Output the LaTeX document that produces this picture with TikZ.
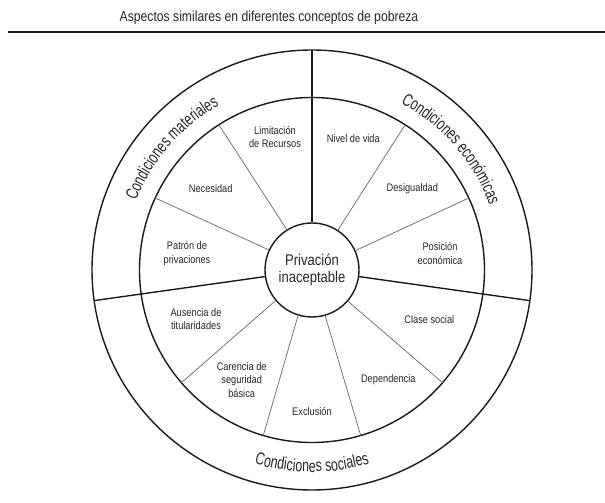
\documentclass[tikz,border=0pt]{standalone}
\usepackage{fontspec}
\setmainfont{Liberation Sans}[FakeStretch=0.84]
\newfontfamily\curvefam{Liberation Sans}[FakeStretch=0.71]
\usetikzlibrary{decorations.text,calc}
\definecolor{ink}{HTML}{1A1A1A}
\definecolor{txt}{HTML}{262626}
\definecolor{thinline}{HTML}{666666}
\newcommand\curvefont{\curvefam\fontsize{17.5}{20}\selectfont\color{txt}}
\begin{document}
\begin{tikzpicture}[x=1pt,y=1pt,
  ring/.style={draw=ink, line width=1.4pt},
  major/.style={draw=ink, line width=1.4pt},
  minor/.style={draw=thinline, line width=0.7pt},
  lab/.style={text=txt, font=\fontsize{11}{13.5}\selectfont, align=center, inner sep=0pt},
  curved/.style={decorate, decoration={text along path, text align=center, text={#1}}}
]
\useasboundingbox (0,0) rectangle (605,503);
% title and rule
\node[text=txt, font=\fontsize{14.5}{16}\selectfont, inner sep=0pt] (title) at (269,485) {Aspectos similares en diferentes conceptos de pobreza};
\coordinate (rl) at (8,471);
\coordinate (rr) at (605,471);
\draw[draw=ink, line width=1.2pt] (rl) -- (rr);
% wheel
\coordinate (C) at (312,233);
\draw[ring] (C) circle[radius=220];
\draw[ring] (C) circle[radius=172.5];
\node[circle, ring, minimum size=94pt, inner sep=0pt, text=txt, align=center,
      font=\fontsize{15.5}{16.5}\selectfont] (core) at (C) {Privación\\inaceptable};
% major dividers
\foreach \a in {90,188,352}
  \draw[major] (core.\a) -- ($(C)+(\a:220)$);
% minor dividers
\foreach \a in {122.67,155.33,57.33,24.67,220.8,253.6,286.4,319.2}
  \draw[minor] (core.\a) -- ($(C)+(\a:172.5)$);
% labels
\node[lab] (lim) at (275,366) {Limitación\\de Recursos};
\node[lab] (nec) at (210.7,314.7) {Necesidad};
\node[lab] (pat) at (187,249.3) {Patrón de\\privaciones};
\node[lab] (niv) at (353.3,364.7) {Nivel de vida};
\node[lab] (des) at (412.3,314.7) {Desigualdad};
\node[lab] (pos) at (440,249.3) {Posición\\económica};
\node[lab] (aus) at (196,183.7) {Ausencia de\\titularidades};
\node[lab] (car) at (241.7,123) {Carencia de\\seguridad\\básica};
\node[lab] (exc) at (312,91.3) {Exclusión};
\node[lab] (dep) at (388.3,123) {Dependencia};
\node[lab] (cla) at (429.3,183) {Clase social};
% curved ring labels
\path[curved={|\curvefont|Condiciones materiales}] ($(C)+(170:189)$) arc[start angle=170, end angle=108, radius=189];
\path[curved={|\curvefont|Condiciones económicas}] ($(C)+(72:189)$) arc[start angle=72, end angle=10, radius=189];
\path[curved={|\curvefont|Condiciones sociales}] ($(C)+(240:202)$) arc[start angle=240, end angle=300, radius=202];
\end{tikzpicture}
\end{document}
